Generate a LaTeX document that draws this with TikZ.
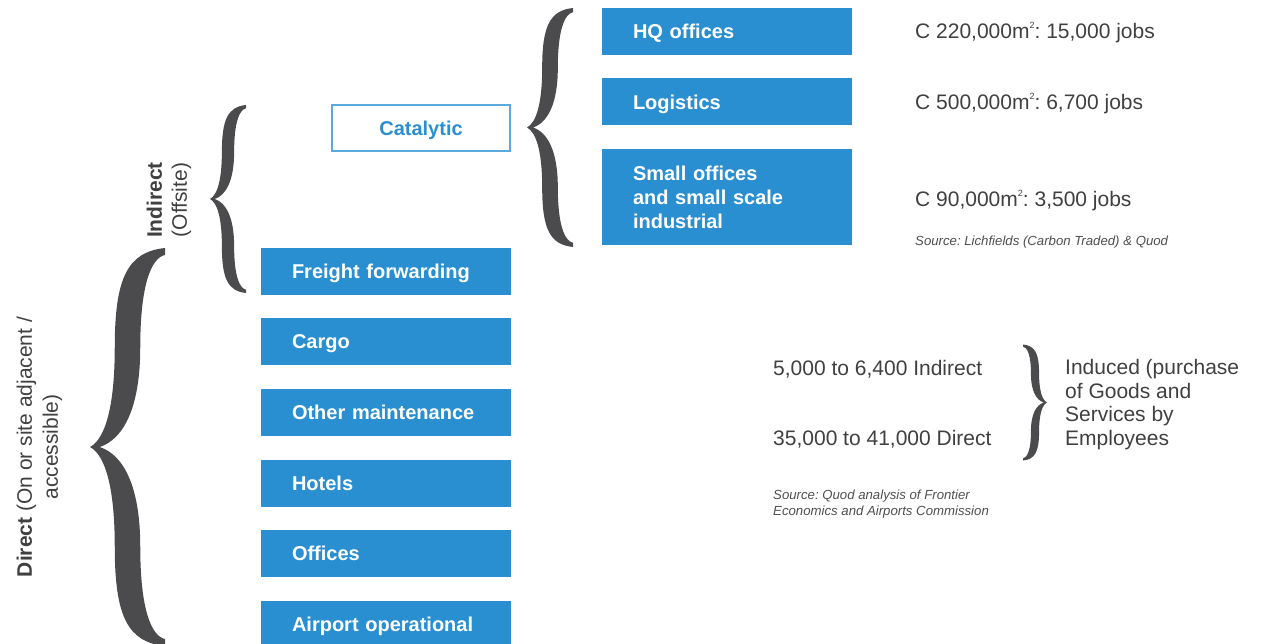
\documentclass[tikz,border=0pt]{standalone}
\usepackage{fontspec}
\setmainfont{Liberation Sans}
\frenchspacing
\definecolor{boxblue}{HTML}{2A8FD0}
\definecolor{edgeblue}{HTML}{5AA8DE}
\definecolor{txtgray}{HTML}{404040}
\definecolor{srcgray}{HTML}{505050}
\definecolor{bracegray}{HTML}{4B4B4D}
\newcommand{\sqm}{m\raisebox{10.5pt}{\fontsize{9}{9}\selectfont 2}}
\tikzset{
	bluebox/.style={fill=boxblue,text=white,font=\fontsize{20}{24}\selectfont\bfseries,
		minimum width=250pt,minimum height=47pt,text width=188pt,align=left,
		inner xsep=31pt,inner ysep=0pt},
	oneline/.style={text height=14.4pt,text depth=0pt},
	figtext/.style={text=txtgray,font=\fontsize{21}{23.5}\selectfont,inner sep=0pt},
	srctext/.style={text=srcgray,font=\fontsize{13.2}{16.5}\selectfont\itshape,inner sep=0pt},
	% brace drawn in a unit box: tip at (0,0), ends at (1,-1) and (1,1)
	curly/.pic={
		\fill[bracegray](1,-1)..controls(0.5,-0.98)and(0.33,-0.85)..(0.33,-0.5)
		..controls(0.33,-0.2)and(0.2,-0.04)..(0,0)
		..controls(0.2,0.04)and(0.33,0.2)..(0.33,0.5)
		..controls(0.33,0.85)and(0.5,0.98)..(1,1)--(1,0.965)
		..controls(0.82,0.95)and(0.67,0.82)..(0.67,0.5)
		..controls(0.67,0.2)and(0.45,0.04)..(0.13,0)
		..controls(0.45,-0.04)and(0.67,-0.2)..(0.67,-0.5)
		..controls(0.67,-0.82)and(0.82,-0.95)..(1,-0.965)--cycle;
	}
}
\begin{document}
\begin{tikzpicture}[x=1pt,y=-1pt]
		\clip(0,0)rectangle(1263,644);
		\fill[white](0,0)rectangle(1263,644);
		
		% catalytic boxes
		\node(hq)[bluebox,oneline] at (727,31.5){HQ offices};
		\node(logistics)[bluebox,oneline] at (727,102){Logistics};
		\node(smalloff)[bluebox,minimum height=96pt] at (727,197){Small offices\\and small scale\\industrial};
		\node(catalytic)[draw=edgeblue,line width=1.2pt,text=boxblue,
		font=\fontsize{20}{24}\selectfont\bfseries,oneline,
		minimum width=178pt,minimum height=46pt,inner sep=0pt] at (421,128){Catalytic};
		
		% direct boxes
		\node(freight)[bluebox,oneline] at (386,271.5){Freight forwarding};
		\node(cargo)[bluebox,oneline] at (386,341.5){Cargo};
		\node(maint)[bluebox,oneline] at (386,412.5){Other maintenance};
		\node(hotels)[bluebox,oneline] at (386,483){Hotels};
		\node(offices)[bluebox,oneline] at (386,553.5){Offices};
		\node(airport)[bluebox,oneline] at (386,624.5){Airport operational};
		
		% braces
		\pic[xscale=75,yscale=199] at (90,447){curly};
		\pic[xscale=36,yscale=94] at (210,199){curly};
		\pic[xscale=46,yscale=119.5] at (527,127.5){curly};
		\pic[xscale=-24,yscale=58] at (1047,402.5){curly};
		
		% side labels
		\node(direct)[figtext,rotate=90,align=center,font=\fontsize{21}{26}\selectfont]
		at (39.5,447){\textbf{Direct} (On or site adjacent /\\accessible)};
		\node(indirect)[figtext,rotate=90,align=center,font=\fontsize{21}{25}\selectfont]
		at (169,200){\textbf{Indirect}\\(Offsite)};
		
		% floor space and jobs
		\node(hqjobs)[figtext,anchor=base west] at (915,39){C 220,000\sqm: 15,000 jobs};
		\node(logjobs)[figtext,anchor=base west] at (915,110){C 500,000\sqm: 6,700 jobs};
		\node(smalljobs)[figtext,anchor=base west] at (915,206.7){C 90,000\sqm: 3,500 jobs};
		\node(srcone)[srctext,anchor=base west] at (915,245.7){Source: Lichfields (Carbon Traded) \& Quod};
		
		% induced
		\node(indjobs)[figtext,anchor=base west] at (773,375){5,000 to 6,400 Indirect};
		\node(dirjobs)[figtext,anchor=base west] at (773,445.7){35,000 to 41,000 Direct};
		\node(induced)[figtext,align=left,anchor=west] at (1065,404.5){Induced (purchase\\of Goods and\\Services by\\Employees};
		\node(srctwo)[srctext,align=left,anchor=west] at (773,504.3){Source: Quod analysis of Frontier\\Economics and Airports Commission};
		
\end{tikzpicture}
\end{document}
